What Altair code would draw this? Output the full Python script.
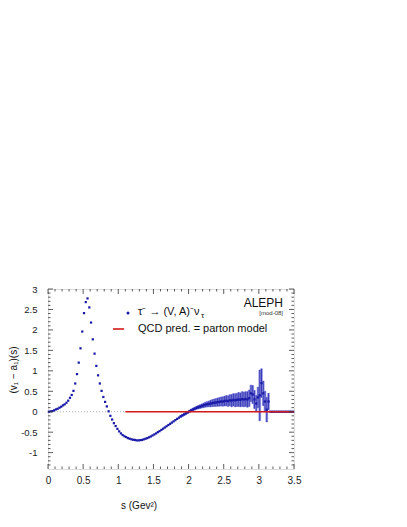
import altair as alt
import numpy as np
import pandas as pd

# ---- data ----
BIN_START = 0.0125
BIN_WIDTH = 0.025
N_BINS = 140

values = [
    0.0, 0.008, 0.016, 0.033, 0.057, 0.073, 0.098, 0.122, 0.155, 0.18,
    0.22, 0.27, 0.34, 0.41, 0.51, 0.69, 0.92, 1.20, 1.55, 1.96,
    2.41, 2.68, 2.77, 2.55, 2.18, 1.77, 1.42, 1.12, 0.89, 0.69,
    0.51, 0.36, 0.24, 0.13, 0.01, -0.10, -0.19, -0.28, -0.35, -0.42,
    -0.48, -0.53, -0.57, -0.60, -0.62, -0.645, -0.66, -0.675, -0.685, -0.69,
    -0.70, -0.70, -0.695, -0.69, -0.675, -0.66, -0.645, -0.625, -0.605, -0.58,
    -0.555, -0.53, -0.50, -0.475, -0.445, -0.415, -0.385, -0.355, -0.325, -0.295,
    -0.265, -0.235, -0.205, -0.175, -0.145, -0.115, -0.09, -0.065, -0.04, -0.015,
    0.01, 0.035, 0.055, 0.075, 0.095, 0.11, 0.125, 0.14, 0.155, 0.17,
    0.18, 0.19, 0.20, 0.21, 0.22, 0.225, 0.235, 0.24, 0.25, 0.25,
    0.26, 0.27, 0.26, 0.28, 0.27, 0.29, 0.28, 0.29, 0.30, 0.29,
    0.31, 0.30, 0.31, 0.30, 0.33, 0.45, 0.42, 0.30, 0.20, 0.35,
    0.40, 0.70, 0.45, 0.25, 0.05, 0.25,
    0, 0, 0, 0, 0, 0, 0, 0, 0, 0, 0, 0, 0, 0,
]

errors = [
    0.005, 0.005, 0.005, 0.005, 0.005, 0.005, 0.005, 0.005, 0.005, 0.005,
    0.005, 0.005, 0.005, 0.005, 0.005, 0.005, 0.005, 0.005, 0.005, 0.005,
    0.005, 0.005, 0.005, 0.005, 0.005, 0.005, 0.005, 0.005, 0.005, 0.005,
    0.005, 0.005, 0.005, 0.005, 0.005, 0.005, 0.005, 0.005, 0.005, 0.005,
    0.012, 0.012, 0.012, 0.012, 0.012, 0.012, 0.012, 0.012, 0.012, 0.012,
    0.012, 0.012, 0.012, 0.012, 0.012, 0.012, 0.012, 0.012, 0.012, 0.012,
    0.015, 0.015, 0.015, 0.015, 0.015, 0.015, 0.015, 0.015, 0.015, 0.015,
    0.02, 0.02, 0.02, 0.02, 0.02, 0.022, 0.022, 0.024, 0.025, 0.027,
    0.03, 0.03, 0.032, 0.035, 0.038, 0.042, 0.045, 0.05, 0.055, 0.06,
    0.065, 0.07, 0.08, 0.085, 0.09, 0.095, 0.10, 0.105, 0.11, 0.115,
    0.12, 0.125, 0.13, 0.135, 0.15, 0.15, 0.16, 0.16, 0.17, 0.17,
    0.18, 0.18, 0.18, 0.19, 0.20, 0.20, 0.22, 0.22, 0.20, 0.25,
    0.62, 0.35, 0.30, 0.25, 0.30, 0.20,
    0, 0, 0, 0, 0, 0, 0, 0, 0, 0, 0, 0, 0, 0,
]

x_major = [0, 0.5, 1, 1.5, 2, 2.5, 3, 3.5]
x_minor = [0.1, 0.2, 0.3, 0.4, 0.6, 0.7, 0.8, 0.9, 1.1, 1.2, 1.3, 1.4,
           1.6, 1.7, 1.8, 1.9, 2.1, 2.2, 2.3, 2.4, 2.6, 2.7, 2.8, 2.9,
           3.1, 3.2, 3.3, 3.4]
y_major = [-1, -0.5, 0, 0.5, 1, 1.5, 2, 2.5, 3]
y_minor = [-1.3, -1.2, -1.1, -0.9, -0.8, -0.7, -0.6, -0.4, -0.3, -0.2, -0.1,
           0.1, 0.2, 0.3, 0.4, 0.6, 0.7, 0.8, 0.9, 1.1, 1.2, 1.3, 1.4,
           1.6, 1.7, 1.8, 1.9, 2.1, 2.2, 2.3, 2.4, 2.6, 2.7, 2.8, 2.9]

QCD_START = 1.1
QCD_END = 3.5
QCD_VALUE = 0.0

# ---- build tables ----
centers = np.round(BIN_START + BIN_WIDTH * np.arange(N_BINS), 4)
df = pd.DataFrame({"s": centers, "v": values, "e": errors})
df["lo"] = df["v"] - df["e"]
df["hi"] = df["v"] + df["e"]
df["s0"] = df["s"] - BIN_WIDTH / 2
df["s1"] = df["s"] + BIN_WIDTH / 2
err_df = df[df["e"] > 0.02]

W, H = 246, 180
FONT = "Liberation Sans"
BLUE = "#1a1aa8"
RED = "#d41a1a"

xs = alt.Scale(domain=[0, 3.5], nice=False, zero=False)
ys = alt.Scale(domain=[-1.4, 3], nice=False, zero=False)

XA = alt.Axis(values=x_major, ticks=False, domain=False, grid=False,
              labelFont=FONT, labelFontSize=10, labelColor="#222",
              labelPadding=6, labelOverlap=False, labelFlush=False,
              labelExpr="'' + datum.value", title=None)
YA = alt.Axis(values=y_major, ticks=False, domain=False, grid=False,
              labelFont=FONT, labelFontSize=9.5, labelColor="#222",
              labelPadding=11, labelOverlap=False, labelFlush=False,
              labelExpr="'' + datum.value", title=None)


def X(field):
    return alt.X(field, scale=xs, axis=XA)


def Y(field):
    return alt.Y(field, scale=ys, axis=YA)


zero_line = alt.Chart(pd.DataFrame({"y": [0.0]})).mark_rule(
    color="#999", strokeDash=[1, 2], strokeWidth=0.8
).encode(y=Y("y:Q"), x=alt.value(0), x2=alt.value(W))

boxes = alt.Chart(err_df).mark_rect(
    fill="#b4bbec", stroke="#5a5ad0", strokeWidth=0.5
).encode(x=X("s0:Q"), x2="s1:Q", y=Y("lo:Q"), y2="hi:Q")

bars = alt.Chart(err_df).mark_rule(color=BLUE, strokeWidth=0.8).encode(
    x=X("s:Q"), y=Y("lo:Q"), y2="hi:Q"
)

qcd = alt.Chart(pd.DataFrame({"a": [QCD_START], "b": [QCD_END], "y": [QCD_VALUE]})).mark_rule(
    color=RED, strokeWidth=1.6
).encode(x=X("a:Q"), x2="b:Q", y=Y("y:Q"))

pts = alt.Chart(df).mark_square(size=5, color=BLUE, opacity=1).encode(
    x=X("s:Q"), y=Y("v:Q")
)


# inward ticks
def xticks(vals, length, top):
    d = pd.DataFrame({"t": vals})
    y0, y1 = (0, length) if top else (H, H - length)
    return alt.Chart(d).mark_rule(color="#333", strokeWidth=0.8).encode(
        x=X("t:Q"), y=alt.value(y0), y2=alt.value(y1))


def yticks(vals, length, right):
    d = pd.DataFrame({"t": vals})
    x0, x1 = (W, W - length) if right else (0, length)
    return alt.Chart(d).mark_rule(color="#333", strokeWidth=0.8).encode(
        y=Y("t:Q"), x=alt.value(x0), x2=alt.value(x1))


ticks = [
    xticks(x_major, 5, False), xticks(x_minor, 2.5, False),
    xticks(x_major, 5, True), xticks(x_minor, 2.5, True),
    yticks(y_major, 5, False), yticks(y_minor, 2.5, False),
    yticks(y_major, 5, True), yticks(y_minor, 2.5, True),
]

one = pd.DataFrame({"a": [0]})
leg_pt = alt.Chart(one).mark_circle(size=9, color=BLUE, opacity=1).encode(
    x=alt.value(80), y=alt.value(24))
leg_txt1 = alt.Chart(one).mark_text(
    text="τ⁻ → (V, A)⁻ν", align="left", baseline="middle", font=FONT, fontSize=11, color="#111"
).encode(x=alt.value(90), y=alt.value(23))
leg_sub = alt.Chart(one).mark_text(
    text="τ", align="left", baseline="middle", font=FONT, fontSize=8, color="#111"
).encode(x=alt.value(153), y=alt.value(27))
leg_line = alt.Chart(one).mark_rule(color=RED, strokeWidth=1.6).encode(
    x=alt.value(65), x2=alt.value(76), y=alt.value(40))
leg_txt2 = alt.Chart(one).mark_text(
    text="QCD pred. = parton model", align="left", baseline="middle", font=FONT, fontSize=11, color="#111"
).encode(x=alt.value(90), y=alt.value(40))
aleph = alt.Chart(one).mark_text(
    text="ALEPH", align="right", baseline="middle", font=FONT, fontSize=12, color="#111"
).encode(x=alt.value(235), y=alt.value(14))
mod = alt.Chart(one).mark_text(
    text="[mod-08]", align="right", baseline="middle", font=FONT, fontSize=6, color="#333"
).encode(x=alt.value(235), y=alt.value(24))
ytitle = alt.Chart(one).mark_text(
    text="(v₁ − a₁)(s)", angle=270, align="center", baseline="middle", font=FONT, fontSize=10, color="#111"
).encode(x=alt.value(-34), y=alt.value(81))
xtitle = alt.Chart(one).mark_text(
    text="s    (Gev²)", align="left", baseline="middle", font=FONT, fontSize=10, color="#111"
).encode(x=alt.value(73), y=alt.value(217))

chart = alt.layer(
    zero_line, boxes, bars, pts, qcd, *ticks,
    leg_pt, leg_txt1, leg_sub, leg_line, leg_txt2, aleph, mod, ytitle, xtitle,
).properties(
    width=W, height=H,
    autosize=alt.AutoSizeParams(type="none"),
    padding={"left": 40, "top": 281, "right": 60, "bottom": 45},
).configure_view(stroke="#444", strokeWidth=1).configure(background="white")

chart.save("out.html", embed_options={"renderer": "svg", "actions": False})
